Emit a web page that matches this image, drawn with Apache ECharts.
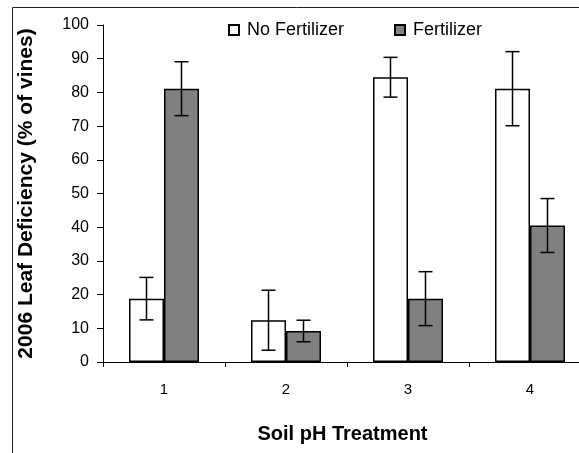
<!DOCTYPE html>
<html>
<head>
<meta charset="utf-8">
<script src="https://cdn.jsdelivr.net/npm/echarts@6/dist/echarts.min.js"></script>
<style>
  html, body { margin: 0; padding: 0; background: #fff; }
  #chart { width: 579px; height: 453px; }
</style>
</head>
<body>
<div id="chart"></div>
<script>
// Soil pH treatments and leaf deficiency (% of vines), mean and error
var categories = ['1', '2', '3', '4'];
var noFertilizer = [18.8, 12.4, 84.5, 81.1];
var noFertilizerErr = [6.3, 8.9, 5.9, 11.0];
var fertilizer = [81.1, 9.2, 18.8, 40.5];
var fertilizerErr = [8.0, 3.2, 8.0, 8.0];
var yTicks = { min: 0, max: 100, interval: 10 };

var FONT = 'Liberation Sans, Arial, sans-serif';
var BAR_W = 35;

function errorSeries(name, means, errs, offset) {
  var data = means.map(function (m, i) { return [i, m - errs[i], m + errs[i]]; });
  return {
    type: 'custom',
    name: name + ' error',
    silent: true,
    z: 5,
    data: data,
    renderItem: function (params, api) {
      var lo = api.coord([api.value(0), api.value(1)]);
      var hi = api.coord([api.value(0), api.value(2)]);
      var x = lo[0] + offset;
      var cap = 7;
      var style = { stroke: '#000', lineWidth: 1.5, fill: null };
      return {
        type: 'group',
        children: [
          { type: 'line', shape: { x1: x, y1: lo[1], x2: x, y2: hi[1] }, style: style },
          { type: 'line', shape: { x1: x - cap, y1: lo[1], x2: x + cap, y2: lo[1] }, style: style },
          { type: 'line', shape: { x1: x - cap, y1: hi[1], x2: x + cap, y2: hi[1] }, style: style }
        ]
      };
    },
    encode: { x: 0, y: [1, 2] }
  };
}

var chart = echarts.init(document.getElementById('chart'), null, { renderer: 'canvas' });
chart.setOption({
  animation: false,
  backgroundColor: '#fff',
  textStyle: { fontFamily: FONT },
  // chart frame: only its left and top edges fall inside the page
  graphic: [{
    type: 'polyline',
    shape: { points: [[12.5, 460], [12.5, 7.5], [700, 7.5]] },
    style: { fill: null, stroke: '#222', lineWidth: 1 },
    silent: true
  }],
  legend: {
    left: 228, top: 21,
    padding: 0,
    itemWidth: 10, itemHeight: 10,
    itemGap: 50,
    icon: 'rect',
    textStyle: { fontFamily: FONT, fontSize: 18, color: '#000', padding: [0, 0, 0, 3] },
    data: ['No Fertilizer', 'Fertilizer']
  },
  // the plot runs past the right edge of the page; keep it from being squeezed in
  grid: { left: 103, top: 25, bottom: 91, width: 488, containLabel: false, outerBoundsMode: 'none' },
  xAxis: {
    type: 'category',
    data: categories,
    axisLine: { lineStyle: { color: '#000', width: 1 } },
    axisTick: { show: true, length: 5, lineStyle: { color: '#000' } },
    axisLabel: { fontFamily: FONT, fontSize: 15, color: '#000', margin: 20 },
    name: 'Soil pH Treatment',
    nameLocation: 'middle',
    nameGap: 62,
    nameTextStyle: { fontFamily: FONT, fontSize: 20, fontWeight: 'bold', color: '#000', padding: [0, 9, 0, 0] }
  },
  yAxis: {
    type: 'value',
    min: yTicks.min, max: yTicks.max, interval: yTicks.interval,
    axisLine: { show: true, lineStyle: { color: '#000', width: 1 } },
    axisTick: { show: true, length: 6, lineStyle: { color: '#000' } },
    splitLine: { show: false },
    axisLabel: { fontFamily: FONT, fontSize: 16, color: '#000', margin: 14 },
    name: '2006 Leaf Deficiency (% of vines)',
    nameLocation: 'middle',
    nameGap: 66,
    nameTextStyle: { fontFamily: FONT, fontSize: 21, fontWeight: 'bold', color: '#000' }
  },
  series: [
    {
      name: 'No Fertilizer', type: 'bar', data: noFertilizer,
      barWidth: BAR_W, barGap: '0%',
      itemStyle: { color: '#fff', borderColor: '#000', borderWidth: 1.5 }
    },
    {
      name: 'Fertilizer', type: 'bar', data: fertilizer,
      barWidth: BAR_W, barGap: '0%',
      itemStyle: { color: '#808080', borderColor: '#000', borderWidth: 1.5 }
    },
    errorSeries('No Fertilizer', noFertilizer, noFertilizerErr, -BAR_W / 2),
    errorSeries('Fertilizer', fertilizer, fertilizerErr, BAR_W / 2)
  ]
});
</script>
</body>
</html>
